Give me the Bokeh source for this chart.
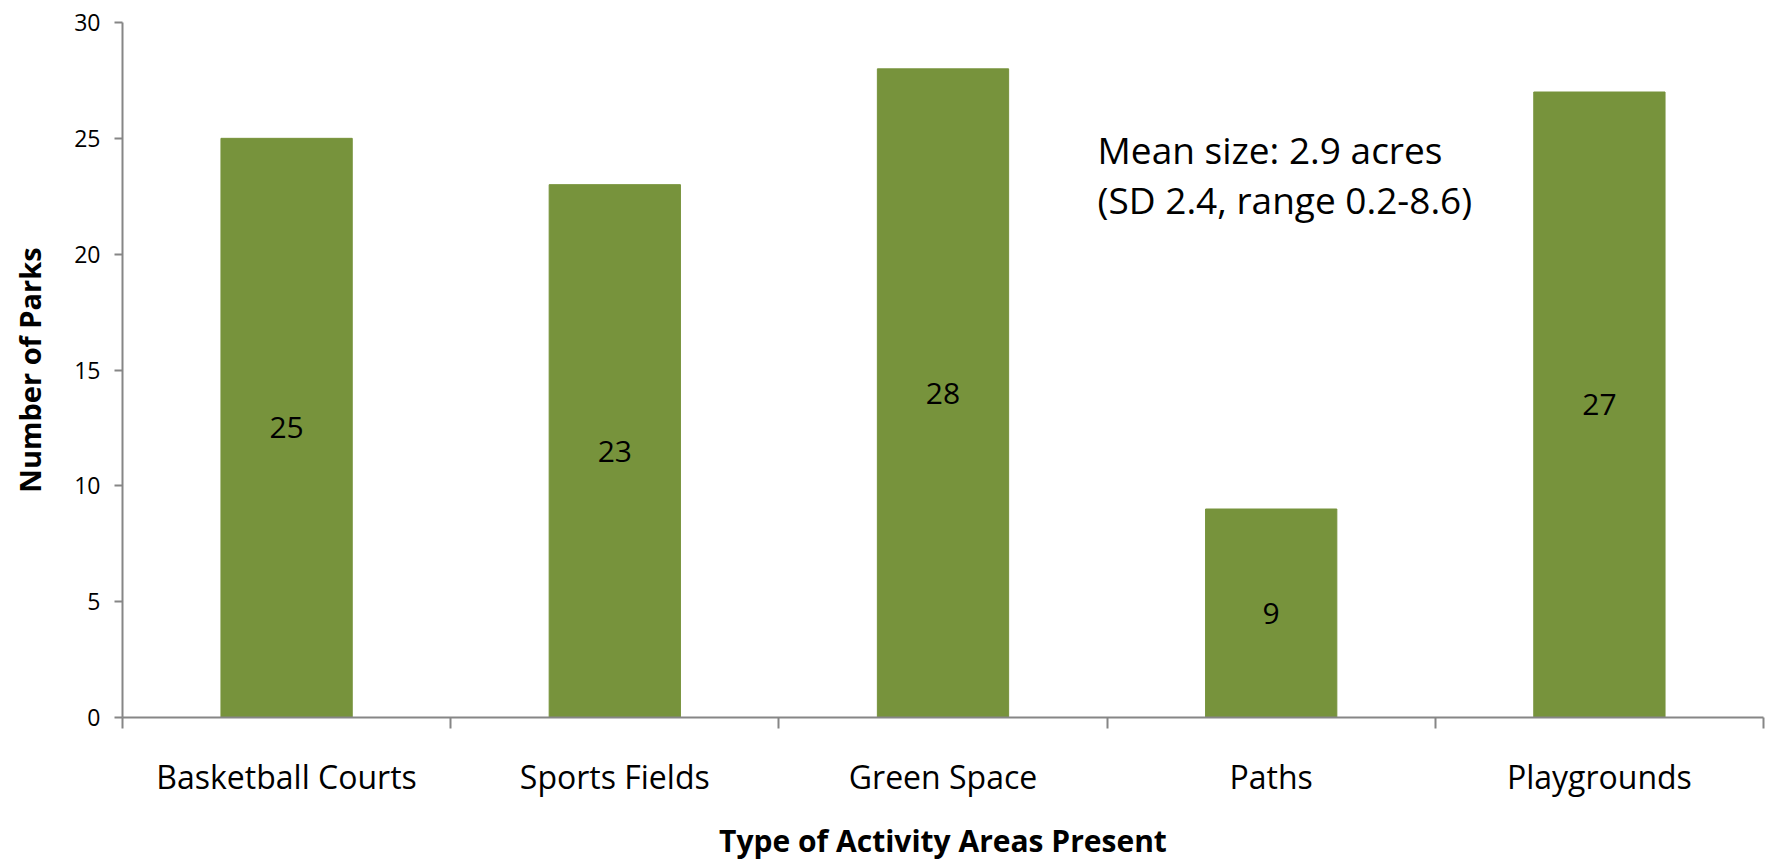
from bokeh.plotting import figure
from bokeh.models import (Range1d, LinearAxis, FixedTicker, Label, ColumnDataSource)
from bokeh.core.properties import value
from bokeh.embed import file_html
from bokeh.resources import INLINE

categories = ["Basketball Courts", "Sports Fields", "Green Space", "Paths", "Playgrounds"]
parks = [25, 23, 28, 9, 27]
y_ticks = [0, 5, 10, 15, 20, 25, 30]
note_lines = ["Mean size: 2.9 acres", "(SD 2.4, range 0.2-8.6)"]

FONT = "Open Sans"
GRAY = "#868686"
GREEN = "#77933C"

n = len(categories)
centers = [i + 0.5 for i in range(n)]
edges = list(range(n + 1))

src = ColumnDataSource(dict(
    x=centers,
    val=parks,
    mid=[v / 2 for v in parks],
    txt=[str(v) for v in parks],
))

p = figure(width=1767, height=863, x_range=Range1d(0, n),
           y_range=Range1d(0, 30), x_axis_location=None, y_axis_location=None,
           output_backend="svg", toolbar_location=None,
           min_border_left=122, min_border_right=4, min_border_top=22,
           min_border_bottom=144)
p.outline_line_color = None
p.xgrid.visible = False
p.ygrid.visible = False
p.background_fill_color = "white"
p.border_fill_color = "white"

# y axis
yax = LinearAxis(ticker=FixedTicker(ticks=y_ticks), axis_label="Number of Parks")
yax.axis_line_color = GRAY
yax.axis_line_width = 2
yax.major_tick_line_color = GRAY
yax.major_tick_line_width = 2
yax.major_tick_in = 0
yax.major_tick_out = 8
yax.minor_tick_line_color = None
yax.major_label_text_font = FONT
yax.major_label_text_font_size = "23px"
yax.major_label_text_color = "black"
yax.major_label_standoff = 14
yax.axis_label_text_font = FONT
yax.axis_label_text_font_style = "bold"
yax.axis_label_text_font_size = "29px"
yax.axis_label_text_color = "black"
yax.axis_label_standoff = 22
p.add_layout(yax, "left")

# x axis: category names at centres, boundary ticks as minor ticks
xax = LinearAxis(ticker=FixedTicker(ticks=centers, minor_ticks=edges),
                 axis_label="Type of Activity Areas Present")
xax.major_label_overrides = {c: name for c, name in zip(centers, categories)}
xax.axis_line_color = GRAY
xax.axis_line_width = 2
xax.major_tick_line_color = None
xax.major_tick_in = 0
xax.major_tick_out = 0
xax.minor_tick_line_color = GRAY
xax.minor_tick_line_width = 2
xax.minor_tick_in = 0
xax.minor_tick_out = 11
xax.major_label_text_font = FONT
xax.major_label_text_font_size = "32px"
xax.major_label_text_color = "black"
xax.major_label_standoff = 26
xax.axis_label_text_font = FONT
xax.axis_label_text_font_style = "bold"
xax.axis_label_text_font_size = "30px"
xax.axis_label_text_color = "black"
xax.axis_label_standoff = 19
p.add_layout(xax, "below")

p.vbar(x="x", top="val", bottom=0, width=0.4, source=src,
       fill_color=GREEN, line_color=GREEN)
p.text(x="x", y="mid", text="txt", source=src, text_align="center",
       text_baseline="middle", text_font=value(FONT), text_font_size="30px",
       text_color="black")

for i, line in enumerate(note_lines):
    p.add_layout(Label(x=2.971, y=24.5 - 2.16 * i,
                       text=line, text_font=FONT, text_font_size="37px",
                       text_color="black", text_baseline="alphabetic",
                       text_align="left"))

open("out.html", "w").write(file_html(p, INLINE))
